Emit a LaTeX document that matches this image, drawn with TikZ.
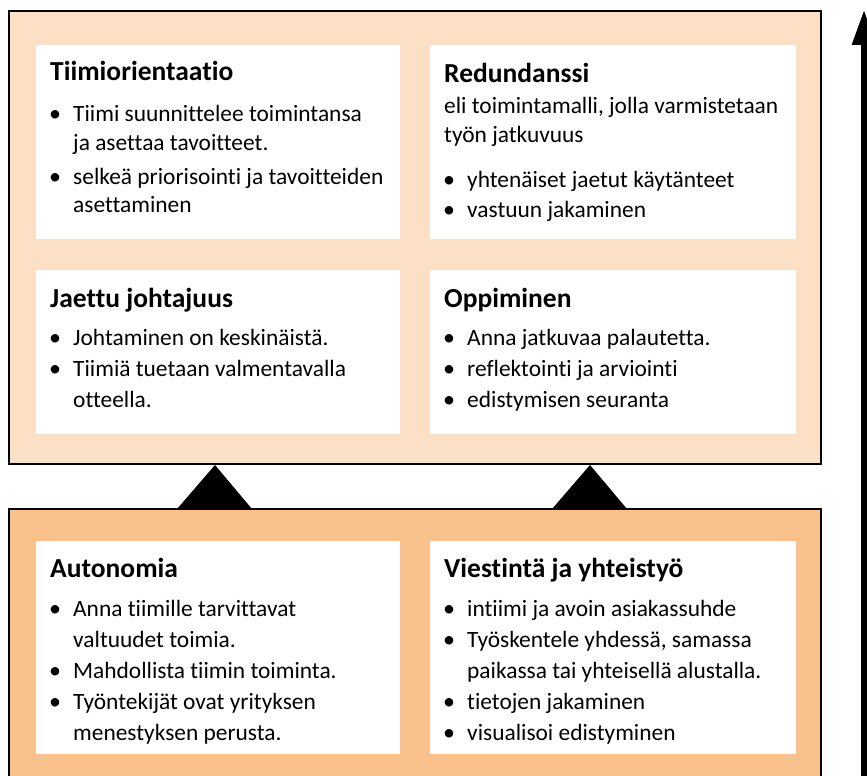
\documentclass[tikz,border=0pt]{standalone}
\usepackage{fontspec}
\setmainfont{Carlito}[Ligatures=NoCommon]
\usetikzlibrary{arrows.meta}
\definecolor{peachlight}{HTML}{FBE0C6}
\definecolor{peachdark}{HTML}{F9C28C}
\tikzset{
  panel/.style={draw=black, line width=2pt},
  card/.style={fill=white, draw=none},
  ttl/.style={anchor=base west, inner sep=0pt, font=\fontsize{27.5}{32}\selectfont\bfseries},
  bodytxt/.style={anchor=base west, inner sep=0pt, font=\fontsize{23.4}{28}\selectfont},
  bul/.style={anchor=base, inner sep=0pt, font=\fontsize{24}{28}\selectfont},
  wedge/.style={fill=black, draw=none}
}
% #1 name, #2 x of text, #3 baseline, #4 text
\newcommand\bitem[4]{\node[bul] (#1b) at (#2-18,#3) {•};\node[bodytxt] (#1) at (#2,#3) {#4};}
\newcommand\pline[4]{\node[bodytxt] (#1) at (#2,#3) {#4};}
\begin{document}
\begin{tikzpicture}[x=1pt,y=-1pt]
\useasboundingbox (0,0) rectangle (867,776);
% panels
\path[panel, fill=peachlight] (9,11) rectangle (821,464);
\path[panel, fill=peachdark] (9,509) rectangle (821,800);
% cards
\path[card] (36,45) rectangle (400,239);
\path[card] (430,45) rectangle (796,239);
\path[card] (36,270) rectangle (400,434);
\path[card] (430,270) rectangle (796,434);
\path[card] (36,541) rectangle (400,754);
\path[card] (430,541) rectangle (796,754);
% wedges
\path[wedge] (177,509) -- (215,465) -- (252,509) -- cycle;
\path[wedge] (552,509) -- (590,465) -- (627,509) -- cycle;
% arrow
\coordinate (arrowfoot) at (864,800);
\coordinate (arrowtip) at (864,10);
\draw[line width=6pt, -{Triangle[length=35pt,width=23pt]}] (arrowfoot) -- (arrowtip);
% Box 1
\node[ttl] (t1) at (50,81) {Tiimiorientaatio};
\bitem{a1}{73}{121.5}{Tiimi suunnittelee toimintansa}
\pline{a2}{73}{150}{ja asettaa tavoitteet.}
\bitem{a3}{73}{184.5}{selkeä priorisointi ja tavoitteiden}
\pline{a4}{73}{212}{asettaminen}
% Box 2
\node[ttl] (t2) at (444,82) {Redundanssi};
\pline{r1}{444}{113}{eli toimintamalli, jolla varmistetaan}
\pline{r2}{444}{142}{työn jatkuvuus}
\bitem{r3}{467}{187}{yhtenäiset jaetut käytänteet}
\bitem{r4}{467}{217}{vastuun jakaminen}
% Box 3
\node[ttl] (t3) at (50,307) {Jaettu johtajuus};
\bitem{j1}{73}{345}{Johtaminen on keskinäistä.}
\bitem{j2}{73}{376}{Tiimiä tuetaan valmentavalla}
\pline{j3}{73}{407}{otteella.}
% Box 4
\node[ttl] (t4) at (444,307) {Oppiminen};
\bitem{o1}{467}{345}{Anna jatkuvaa palautetta.}
\bitem{o2}{467}{376}{reflektointi ja arviointi}
\bitem{o3}{467}{407}{edistymisen seuranta}
% Box 5
\node[ttl] (t5) at (50,577) {Autonomia};
\bitem{u1}{73}{616}{Anna tiimille tarvittavat}
\pline{u2}{73}{647}{valtuudet toimia.}
\bitem{u3}{73}{678}{Mahdollista tiimin toiminta.}
\bitem{u4}{73}{709}{Työntekijät ovat yrityksen}
\pline{u5}{73}{740}{menestyksen perusta.}
% Box 6
\node[ttl] (t6) at (444,577) {Viestintä ja yhteistyö};
\bitem{v1}{467}{616}{intiimi ja avoin asiakassuhde}
\bitem{v2}{467}{647}{Työskentele yhdessä, samassa}
\pline{v3}{467}{678}{paikassa tai yhteisellä alustalla.}
\bitem{v4}{467}{709}{tietojen jakaminen}
\bitem{v5}{467}{740}{visualisoi edistyminen}
\end{tikzpicture}
\end{document}
